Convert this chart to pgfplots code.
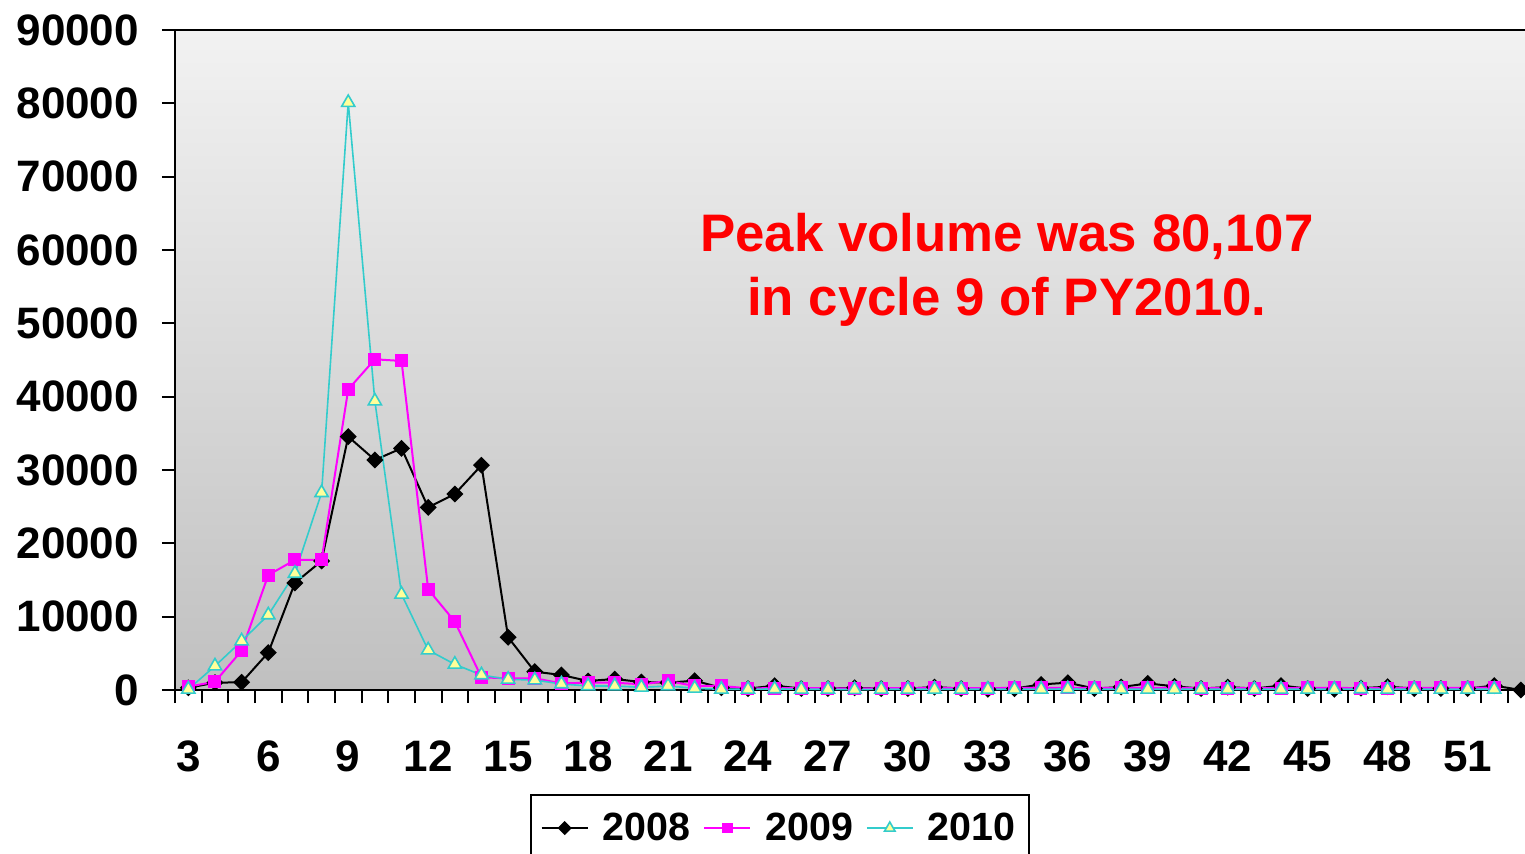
\documentclass[border=0pt]{standalone}
\usepackage{fontspec}
\setmainfont{Liberation Sans}
\usepackage{pgfplots}
\pgfplotsset{compat=1.18}
\definecolor{c2008}{HTML}{000000}
\definecolor{c2009}{HTML}{FF00FF}
\definecolor{c2010}{HTML}{33CCCC}
\definecolor{tri}{HTML}{FFFF99}
\definecolor{bgtop}{HTML}{F2F2F2}
\definecolor{bgbot}{HTML}{C0C0C0}
\begin{document}
\begin{tikzpicture}
\begin{axis}[
  at={(0,0)}, anchor=south west,
  scale only axis, width=679.6pt, height=330pt,
  xmin=2.5, xmax=53.5, ymin=0, ymax=90000,
  axis background/.style={top color=bgtop, bottom color=bgbot},
  axis line style={line width=1pt},
  tick align=outside, xtick pos=bottom, ytick pos=left,
  xtick={3,6,...,51}, minor xtick={2.5,3.5,...,53.5},
  ytick={0,10000,...,90000}, minor ytick={0,10000,...,90000},
  major tick length=0pt, minor tick length=6.5pt,
  minor tick style={line width=1pt, black},
  tick label style={font=\fontsize{22}{26}\selectfont\bfseries},
  xticklabel style={yshift=-22pt},
  yticklabel style={xshift=-14.5pt},
  /pgf/number format/assume math mode=true,
  /pgf/number format/1000 sep={},
  scaled y ticks=false,
  legend columns=3,
  legend style={at={(0.4451,-0.1576)}, anchor=north, draw=black, line width=0.8pt,
    inner ysep=7pt, inner xsep=5pt,
    font=\fontsize{19.7}{24}\selectfont\bfseries,
    /tikz/every odd column/.append style={column sep=5pt},
    /tikz/every even column/.append style={column sep=4.5pt}},
  legend image code/.code={\draw[mark repeat=2,mark phase=2, every mark/.append style={scale=0.8}] plot coordinates {(0pt,0pt) (11.5pt,0pt) (23pt,0pt)};},
]
\addplot[c2008, line width=1pt, mark=square*, mark size=2.5pt, mark options={rotate=45, solid}] coordinates {
(3,300)(4,1000)(5,1050)(6,5100)(7,14600)(8,17600)(9,34550)(10,31370)(11,32960)(12,24900)
(13,26730)(14,30650)(15,7190)(16,2500)(17,2050)(18,1230)(19,1500)(20,1090)(21,1000)(22,1270)
(23,300)(24,180)(25,590)(26,200)(27,200)(28,300)(29,200)(30,200)(31,400)(32,200)
(33,100)(34,200)(35,760)(36,1000)(37,200)(38,400)(39,900)(40,500)(41,200)(42,400)
(43,200)(44,600)(45,200)(46,100)(47,250)(48,450)(49,200)(50,200)(51,200)(52,600)(53,0)};
\addlegendentry{2008}
\addplot[c2009, line width=1pt, mark=square*, mark size=2.75pt, mark options={solid}] coordinates {
(3,450)(4,1130)(5,5360)(6,15680)(7,17730)(8,17730)(9,41000)(10,45100)(11,44870)(12,13730)
(13,9320)(14,1730)(15,1590)(16,1600)(17,900)(18,1000)(19,1000)(20,780)(21,1230)(22,550)
(23,550)(24,230)(25,250)(26,250)(27,250)(28,200)(29,250)(30,250)(31,300)(32,250)
(33,250)(34,300)(35,300)(36,300)(37,300)(38,300)(39,300)(40,300)(41,250)(42,250)
(43,250)(44,250)(45,300)(46,300)(47,250)(48,250)(49,300)(50,300)(51,300)(52,350)};
\addlegendentry{2009}
\addplot[c2010, line width=0.8pt, mark=triangle*, mark size=3.8pt, mark options={solid, fill=tri, draw=c2010, line width=0.8pt}] coordinates {
(3,100)(4,3270)(5,6680)(6,10230)(7,15900)(8,26900)(9,80107)(10,39400)(11,13050)(12,5450)
(13,3500)(14,2050)(15,1450)(16,1360)(17,820)(18,550)(19,550)(20,360)(21,550)(22,230)
(23,100)(24,100)(25,150)(26,100)(27,100)(28,50)(29,100)(30,100)(31,100)(32,100)
(33,100)(34,100)(35,100)(36,150)(37,100)(38,100)(39,100)(40,100)(41,100)(42,100)
(43,100)(44,100)(45,100)(46,100)(47,150)(48,100)(49,100)(50,100)(51,100)(52,100)};
\addlegendentry{2010}
\node[text=red, align=center, font=\fontsize{26.4}{32}\selectfont\bfseries] at (rel axis cs:0.612,0.636) {Peak volume was 80,107\\in cycle 9 of PY2010.};
\end{axis}
\pgfresetboundingbox
\path[use as bounding box] (-87.5pt,-81.5pt) rectangle (675pt,345pt);
\end{tikzpicture}
\end{document}
